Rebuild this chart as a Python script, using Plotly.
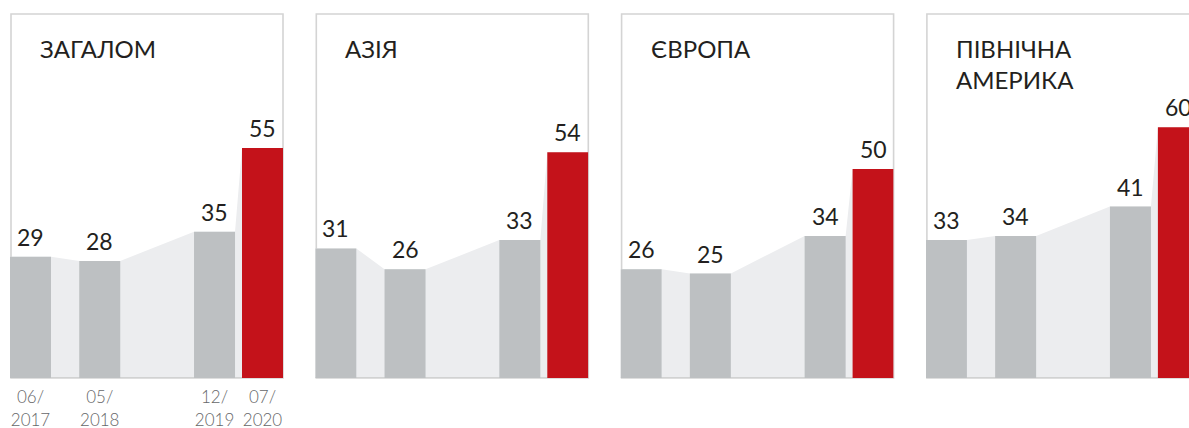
import plotly.graph_objects as go
import pandas as pd

# ---------------- data ----------------
regions = ["ЗАГАЛОМ", "АЗІЯ", "ЄВРОПА", "ПІВНІЧНА<br>АМЕРИКА"]
survey_dates = ["2017-06-01", "2018-05-12", "2019-12-05", "2020-07-31"]
tick_labels = ["06/<br>2017", "05/<br>2018", "12/<br>2019", "07/<br>2020"]
overall = [29, 28, 35, 55]
asia = [31, 26, 33, 54]
europe = [26, 25, 34, 50]
north_america = [33, 34, 41, 60]
series = [overall, asia, europe, north_america]

# ---------------- style / layout ----------------
W, H = 1189, 428
GREY_BAR = "#bdc0c2"
RED_BAR = "#c4121a"
AREA = "#ecedef"
BOX = "#d4d4d4"
BASE = "#c9c9c9"
TXT = "#231f20"
FONT = "Lato"

dates = pd.to_datetime(survey_dates)
span_days = (dates[-1] - dates[0]).days
PX_PER_DAY = 232.0 / span_days          # horizontal scale
BAR_PX = 41.0
half = pd.Timedelta(days=BAR_PX / 2 / PX_PER_DAY)
bar_width_ms = BAR_PX / PX_PER_DAY * 86400000

PANEL_W = 273.0
PANEL_STEP = 305.3
BASELINE_PX = 378.0
PX_PER_UNIT = 4.18

fig = go.Figure()
layout = dict(
    width=W, height=H, margin=dict(l=0, r=0, t=0, b=0, autoexpand=False),
    paper_bgcolor="white", plot_bgcolor="rgba(0,0,0,0)",
    showlegend=False, font=dict(family=FONT, color=TXT),
)
shapes, annotations = [], []

ydom = [(H - BASELINE_PX) / H, 1]
yrange = [0, BASELINE_PX / PX_PER_UNIT]

for i, (name, vals) in enumerate(zip(regions, series)):
    L = 10 + PANEL_STEP * i
    R = min(L + PANEL_W, W)
    xs0 = dates[0] - half
    xs1 = xs0 + pd.Timedelta(days=(R - L) / PX_PER_DAY)
    base = 2 * i + 1
    over = 2 * i + 2
    bx, by = f"x{base}", f"y{base}"
    ox, oy = f"x{over}", f"y{over}"

    common_x = dict(domain=[L / W, R / W], type="date",
                    range=[xs0, xs1], showgrid=False, zeroline=False,
                    showline=False, fixedrange=True, automargin=False)
    layout[f"xaxis{base}"] = dict(
        **common_x, anchor=by,
        showticklabels=(i == 0),
        tickvals=list(dates), ticktext=tick_labels,
        ticks="outside", ticklen=4, tickcolor="rgba(0,0,0,0)",
        tickfont=dict(family=FONT, size=17, color="#666769", weight=300),
    )
    layout[f"yaxis{base}"] = dict(domain=ydom, range=yrange, visible=False,
                                  anchor=bx, fixedrange=True, automargin=False)
    layout[f"xaxis{over}"] = dict(**common_x, anchor=oy, overlaying=bx,
                                  showticklabels=False)
    layout[f"yaxis{over}"] = dict(domain=ydom, range=yrange, visible=False,
                                  anchor=ox, overlaying=by, fixedrange=True,
                                  automargin=False)

    # background area joining bar tops
    ax, ay = [], []
    for d, v in zip(dates, vals):
        ax += [d - half, d + half]
        ay += [v, v]
    fig.add_trace(go.Scatter(x=ax, y=ay, mode="lines", line=dict(width=0),
                             fill="tozeroy", fillcolor=AREA,
                             xaxis=bx, yaxis=by, hoverinfo="skip"))
    # baseline
    fig.add_trace(go.Scatter(x=[dates[0] - half, dates[-1] + half], y=[0, 0],
                             mode="lines", line=dict(color=BASE, width=1.6),
                             xaxis=bx, yaxis=by, hoverinfo="skip"))
    # bars
    fig.add_trace(go.Bar(x=list(dates), y=vals, width=bar_width_ms,
                         marker=dict(color=[GREY_BAR] * 3 + [RED_BAR],
                                     line=dict(width=0)),
                         xaxis=ox, yaxis=oy))
    for d, v in zip(dates, vals):
        annotations.append(dict(x=d, y=v, xref=ox, yref=oy, text=str(v),
                                showarrow=False, yanchor="bottom",
                                yshift=4, font=dict(size=23, color=TXT,
                                                    family=FONT)))
    # panel frame
    shapes.append(dict(type="rect", xref="paper", yref="paper",
                       x0=(L + 1) / W, x1=(L + PANEL_W) / W,
                       y0=1 - BASELINE_PX / H, y1=1 - 14 / H,
                       line=dict(color=BOX, width=1.6), layer="below"))
    annotations.append(dict(x=(L + 28) / W, y=1 - 32 / H, xref="paper",
                            yref="paper", xanchor="left", yanchor="top",
                            align="left", text=name, showarrow=False,
                            font=dict(size=24, color=TXT, family=FONT)))

layout["shapes"] = shapes
layout["annotations"] = annotations
fig.update_layout(**layout)
fig.write_html("out.html",
               config={"displayModeBar": False, "staticPlot": True},
               post_script="document.body.style.margin='0';"
                           "document.body.style.overflow='hidden';")
